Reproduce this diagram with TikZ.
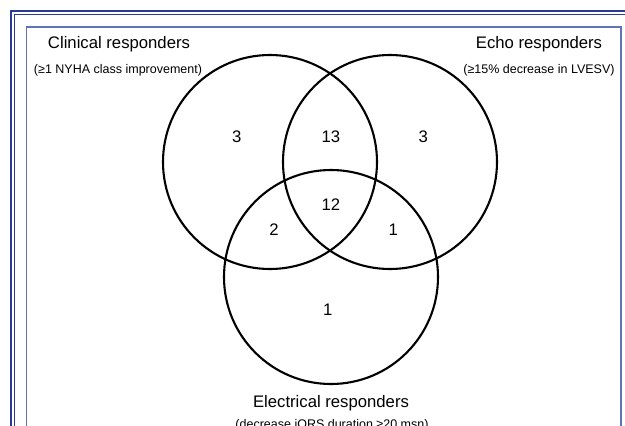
\documentclass[tikz,border=0pt]{standalone}
\usepackage{fontspec}
\setmainfont{Liberation Sans}
\definecolor{frameblue}{RGB}{40,60,145}
\definecolor{innerblue}{RGB}{95,115,185}
\newcommand{\titlefont}{\fontsize{16.7}{20}\selectfont}
\newcommand{\notefont}{\fontsize{12.5}{15}\selectfont}

\begin{document}
\begin{tikzpicture}[x=1pt,y=1pt]
\tikzstyle{every node}+=[inner sep=0pt]
\tikzset{setlabel/.style={anchor=base,font=\titlefont},
  setnote/.style={anchor=base,font=\notefont},
  count/.style={font=\titlefont}}
\useasboundingbox (0,0) rectangle (625,-426);
% frame
\draw [frameblue, line width=2.2] (11,-426) -- (11,-11) -- (625,-11);
\draw [frameblue, line width=1.1] (14.5,-426) -- (14.5,-14.5) -- (625,-14.5);
\draw [innerblue, line width=1.1] (26.5,-426) -- (26.5,-27) -- (621,-27) -- (621,-426);
% sets
\draw [black, line width=2.1] (270,-162) circle (107);
\draw [black, line width=2.1] (390,-162) circle (107);
\draw [black, line width=2.1] (331,-277) circle (107);
% labels
\draw (119,-48.5) node [setlabel] (clin) {Clinical responders};
\draw (118,-73) node [setnote] (clinnote) {(≥1 NYHA class improvement)};
\draw (539,-48.5) node [setlabel] (echo) {Echo responders};
\draw (539,-73) node [setnote] (echonote) {(≥15\% decrease in LVESV)};
\draw (331,-407) node [setlabel] (elec) {Electrical responders};
\draw (332,-428) node [setnote] (elecnote) {(decrease iQRS duration ≥20 msn)};
% counts
\draw (236.7,-136.7) node [count] (n1) {3};
\draw (331,-136.7) node [count] (n2) {13};
\draw (423.3,-136.7) node [count] (n3) {3};
\draw (331,-205) node [count] (n4) {12};
\draw (274,-230) node [count] (n5) {2};
\draw (393.3,-230) node [count] (n6) {1};
\draw (327.7,-310) node [count] (n7) {1};
\end{tikzpicture}
\end{document}
